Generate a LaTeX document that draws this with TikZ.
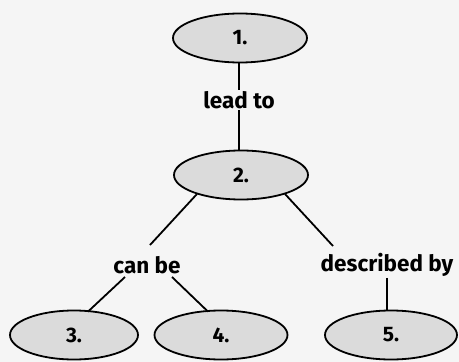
\documentclass[tikz,border=0pt]{standalone}
\usepackage{fontspec}
\setmainfont{Fira Sans}
\usetikzlibrary{shapes.geometric,calc}
\begin{document}
\begin{tikzpicture}[x=1pt,y=-1pt,
  oval/.style={draw=black, line width=1.8pt, fill=black!14, ellipse, minimum width=#1, minimum height=49pt, inner sep=0pt, font=\fontsize{21}{24}\selectfont\bfseries},
  lbl/.style={inner sep=1pt, font=\fontsize{22.5}{26}\selectfont\bfseries},
  conn/.style={draw=black, line width=1.8pt}]
\fill[black!4] (0,0) rectangle (459,362);
\useasboundingbox (0,0) rectangle (459,362);
\node[oval=134pt] (n1) at (240,38) {1.};
\node[lbl] (l1) at (239,100) {lead to};
\node[oval=134pt] (n2) at (241,175) {2.};
\node[lbl] (l2) at (147,265) {can be};
\node[lbl] (l3) at (387,265) {described by};
\node[oval=128pt] (n3) at (74,335) {3.};
\node[oval=133pt] (n4) at (221,335) {4.};
\node[oval=132pt] (n5) at (391,335) {5.};
\draw[conn] (n1.south -| l1) -- (l1);
\draw[conn] (l1) -- (n2.north -| l1);
\coordinate (e2a) at ($(n2.center)+(-44,19)$);
\coordinate (e2b) at ($(n2.center)+(44,19)$);
\coordinate (t2a) at ($(l2.center)+(3,-20)$);
\coordinate (t3a) at ($(l3.center)+(-54,-19)$);
\draw[conn] (e2a) -- (t2a);
\draw[conn] (e2b) -- (t3a);
\coordinate (b2a) at ($(l2.center)+(-22,12)$);
\coordinate (b2b) at ($(l2.center)+(25,12)$);
\coordinate (e3) at ($(n3.north)+(14,2)$);
\coordinate (e4) at ($(n4.north)+(-13,2)$);
\draw[conn] (b2a) -- (e3);
\draw[conn] (b2b) -- (e4);
\draw[conn] (l3.south) ++(0,0) coordinate (b3) (b3) -- (b3 |- n5.north);
\end{tikzpicture}
\end{document}
